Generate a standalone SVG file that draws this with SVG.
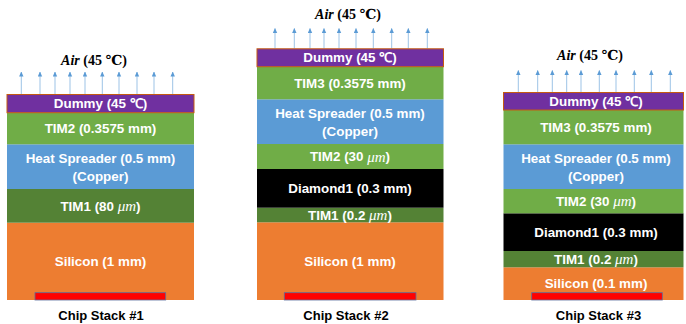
<svg xmlns="http://www.w3.org/2000/svg" width="686" height="324" viewBox="0 0 686 324">
<defs>
<marker id="ah" markerWidth="5" markerHeight="5" refX="4.5" refY="2.5" orient="auto" markerUnits="userSpaceOnUse" viewBox="0 0 5 5">
<path d="M0,0.3 L5,2.5 L0,4.7 Z" fill="#5B9BD5"/>
</marker>
<style>
.lbl{font-family:"Liberation Sans",Arial,sans-serif;font-weight:bold;font-size:13.4px;fill:#fff;text-anchor:middle;dominant-baseline:central}
.mu{font-family:"Liberation Serif","DejaVu Serif",serif;font-style:italic;font-weight:normal;font-size:15px}
.cap{font-family:"Liberation Sans",Arial,sans-serif;font-weight:bold;font-size:13px;fill:#000;text-anchor:middle}
.air{font-family:"Liberation Serif","DejaVu Serif",serif;font-weight:bold;font-size:14px;fill:#000;text-anchor:middle}
.arr{stroke:#9DC3E6;stroke-width:1;fill:none;marker-end:url(#ah)}
.dummy{fill:#7030A0;stroke:#C55A11;stroke-width:1}
.tima{fill:#70AD47}
.hs{fill:#5B9BD5}
.timb{fill:#548235}
.si{fill:#ED7D31}
.dia{fill:#000}
.heat{fill:#FF0000;stroke:#5A6E9E;stroke-width:0.8}
</style>
</defs>

<g id="connectors">
<g id="air1-arrows">
<line class="arr" x1="21.3" y1="94" x2="21.3" y2="72"/>
<line class="arr" x1="40" y1="94" x2="40" y2="72"/>
<line class="arr" x1="55" y1="94" x2="55" y2="72"/>
<line class="arr" x1="70" y1="94" x2="70" y2="72"/>
<line class="arr" x1="85" y1="94" x2="85" y2="72"/>
<line class="arr" x1="102.3" y1="94" x2="102.3" y2="72"/>
<line class="arr" x1="119" y1="94" x2="119" y2="72"/>
<line class="arr" x1="137" y1="94" x2="137" y2="72"/>
<line class="arr" x1="154" y1="94" x2="154" y2="72"/>
<line class="arr" x1="172.7" y1="94" x2="172.7" y2="72"/>
</g>
<g id="air2-arrows">
<line class="arr" x1="275" y1="48.3" x2="275" y2="28.5"/>
<line class="arr" x1="294.3" y1="48.3" x2="294.3" y2="28.5"/>
<line class="arr" x1="310" y1="48.3" x2="310" y2="28.5"/>
<line class="arr" x1="324" y1="48.3" x2="324" y2="28.5"/>
<line class="arr" x1="339" y1="48.3" x2="339" y2="28.5"/>
<line class="arr" x1="356" y1="48.3" x2="356" y2="28.5"/>
<line class="arr" x1="373.3" y1="48.3" x2="373.3" y2="28.5"/>
<line class="arr" x1="391.7" y1="48.3" x2="391.7" y2="28.5"/>
<line class="arr" x1="408.3" y1="48.3" x2="408.3" y2="28.5"/>
<line class="arr" x1="427.3" y1="48.3" x2="427.3" y2="28.5"/>
</g>
<g id="air3-arrows">
<line class="arr" x1="518.3" y1="92.5" x2="518.3" y2="70.5"/>
<line class="arr" x1="537.7" y1="92.5" x2="537.7" y2="70.5"/>
<line class="arr" x1="552.3" y1="92.5" x2="552.3" y2="70.5"/>
<line class="arr" x1="566.7" y1="92.5" x2="566.7" y2="70.5"/>
<line class="arr" x1="581" y1="92.5" x2="581" y2="70.5"/>
<line class="arr" x1="599.3" y1="92.5" x2="599.3" y2="70.5"/>
<line class="arr" x1="616" y1="92.5" x2="616" y2="70.5"/>
<line class="arr" x1="634.3" y1="92.5" x2="634.3" y2="70.5"/>
<line class="arr" x1="651.3" y1="92.5" x2="651.3" y2="70.5"/>
<line class="arr" x1="670.3" y1="92.5" x2="670.3" y2="70.5"/>
</g>
</g>

<!-- Stack 1 -->
<g id="stack1">
<text class="air" x="94" y="64.5"><tspan font-style="italic">Air</tspan> (45 ℃)</text>
<g id="s1-silicon"><rect class="si" x="7" y="222.7" width="187" height="77.3"/><text class="lbl" x="100.5" y="261">Silicon (1 mm)</text></g>
<g id="s1-heat"><rect class="heat" x="35" y="292.7" width="130.7" height="7.3"/></g>
<g id="s1-tim1"><rect class="timb" x="7" y="189" width="187" height="33.7"/><text class="lbl" x="100.5" y="206">TIM1 (80 <tspan class="mu">μm</tspan>)</text></g>
<g id="s1-hs"><rect class="hs" x="7" y="144.3" width="187" height="44.7"/><text class="lbl" x="100.5" y="158.3">Heat Spreader (0.5 mm)</text><text class="lbl" x="100.5" y="176">(Copper)</text></g>
<g id="s1-tim2"><rect class="tima" x="7" y="112.7" width="187" height="31.6"/><text class="lbl" x="100.5" y="128.5">TIM2 (0.3575 mm)</text></g>
<g id="s1-dummy"><rect class="dummy" x="7" y="94.5" width="187" height="18.2"/><text class="lbl" x="100.5" y="103.6">Dummy (45 ℃)</text></g>
<text class="cap" x="101" y="319.5">Chip Stack #1</text>
</g>

<!-- Stack 2 -->
<g id="stack2">
<text class="air" x="348" y="18.5"><tspan font-style="italic">Air</tspan> (45 ℃)</text>
<g id="s2-silicon"><rect class="si" x="257" y="222.3" width="186.5" height="77.7"/><text class="lbl" x="350" y="261">Silicon (1 mm)</text></g>
<g id="s2-heat"><rect class="heat" x="284.3" y="292.7" width="131.7" height="7.3"/></g>
<g id="s2-tim1"><rect class="timb" x="257" y="207.7" width="186.5" height="14.6"/><text class="lbl" x="350" y="215">TIM1 (0.2 <tspan class="mu">μm</tspan>)</text></g>
<g id="s2-diamond"><rect class="dia" x="257" y="169" width="186.5" height="38.7"/><text class="lbl" x="350" y="188.3">Diamond1 (0.3 mm)</text></g>
<g id="s2-tim2"><rect class="tima" x="257" y="144" width="186.5" height="25"/><text class="lbl" x="350" y="156.5">TIM2 (30 <tspan class="mu">μm</tspan>)</text></g>
<g id="s2-hs"><rect class="hs" x="257" y="99.3" width="186.5" height="44.7"/><text class="lbl" x="350" y="113.5">Heat Spreader (0.5 mm)</text><text class="lbl" x="350" y="131.5">(Copper)</text></g>
<g id="s2-tim3"><rect class="tima" x="257" y="66.7" width="186.5" height="32.6"/><text class="lbl" x="350" y="83">TIM3 (0.3575 mm)</text></g>
<g id="s2-dummy"><rect class="dummy" x="257" y="48.8" width="186.5" height="17.9"/><text class="lbl" x="350" y="57.8">Dummy (45 ℃)</text></g>
<text class="cap" x="346" y="319.5">Chip Stack #2</text>
</g>

<!-- Stack 3 -->
<g id="stack3">
<text class="air" x="590" y="59.5"><tspan font-style="italic">Air</tspan> (45 ℃)</text>
<g id="s3-silicon"><rect class="si" x="503.5" y="267.3" width="180" height="32.7"/><text class="lbl" x="596" y="283.8">Silicon (0.1 mm)</text></g>
<g id="s3-heat"><rect class="heat" x="531.7" y="292.7" width="130.6" height="7.3"/></g>
<g id="s3-tim1"><rect class="timb" x="503.5" y="251" width="180" height="16.3"/><text class="lbl" x="596" y="259.2">TIM1 (0.2 <tspan class="mu">μm</tspan>)</text></g>
<g id="s3-diamond"><rect class="dia" x="503.5" y="213.3" width="180" height="37.7"/><text class="lbl" x="596" y="232.2">Diamond1 (0.3 mm)</text></g>
<g id="s3-tim2"><rect class="tima" x="503.5" y="189" width="180" height="24.3"/><text class="lbl" x="596" y="201.2">TIM2 (30 <tspan class="mu">μm</tspan>)</text></g>
<g id="s3-hs"><rect class="hs" x="503.5" y="144.3" width="180" height="44.7"/><text class="lbl" x="596" y="158.3">Heat Spreader (0.5 mm)</text><text class="lbl" x="596" y="176">(Copper)</text></g>
<g id="s3-tim3"><rect class="tima" x="503.5" y="110" width="180" height="34.3"/><text class="lbl" x="596" y="127.2">TIM3 (0.3575 mm)</text></g>
<g id="s3-dummy"><rect class="dummy" x="503.5" y="92.5" width="180" height="17.5"/><text class="lbl" x="596" y="101.3">Dummy (45 ℃)</text></g>
<text class="cap" x="598.5" y="319.5">Chip Stack #3</text>
</g>
</svg>
